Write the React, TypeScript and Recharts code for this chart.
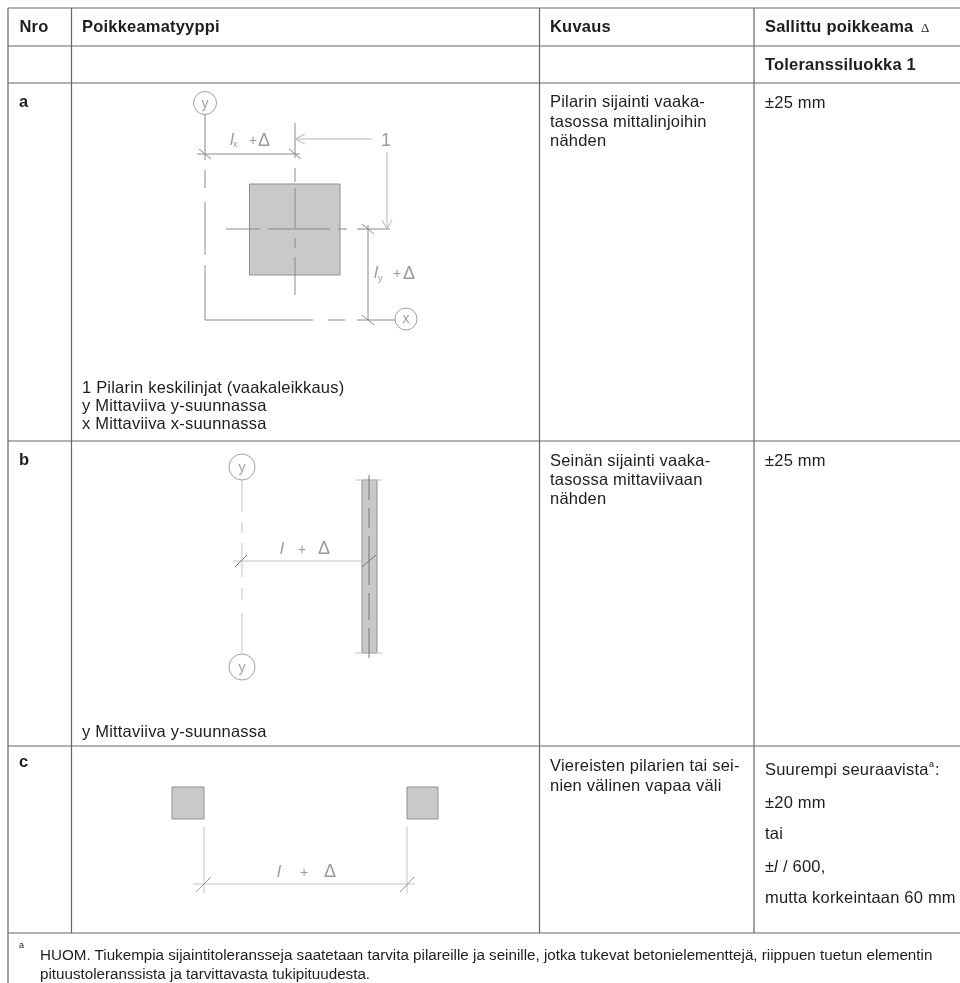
import React from "react";
import { ReferenceArea, ReferenceDot, ReferenceLine, Scatter, ScatterChart, XAxis, YAxis } from "recharts";

type Seg = [number, number, number, number];
type Box = [number, number, number, number];
type Circle = [number, number, number];
type Lab = { x: number; y: number; t: string };

const tableLines: Seg[] = [
  [8, 8, 960, 8],
  [8, 46, 960, 46],
  [8, 83, 960, 83],
  [8, 441, 960, 441],
  [8, 746, 960, 746],
  [8, 933, 960, 933],
  [8, 8, 8, 983],
  [71.5, 8, 71.5, 933],
  [539.5, 8, 539.5, 933],
  [754, 8, 754, 933],
];

// drawing a
const columnLines: Seg[] = [
  [205, 114, 205, 160],
  [205, 170, 205, 188],
  [205, 202, 205, 255],
  [205, 265, 205, 320],
  [205, 320, 313, 320],
  [328, 320, 345, 320],
  [357, 320, 395, 320],
  [295, 123, 295, 158],
  [295, 168, 295, 182],
  [295, 188, 295, 228],
  [295, 238, 295, 248],
  [295, 257, 295, 295],
  [226, 229, 260, 229],
  [268, 229, 330, 229],
  [338, 229, 347, 229],
  [357, 229, 390, 229],
  [197, 154, 300, 154],
  [368, 225, 368, 320],
  [199, 149, 211, 159],
  [289, 149, 301, 159],
  [362, 224, 374, 234],
  [362, 315, 374, 325],
];
const columnLeaders: Seg[] = [
  [295, 139, 372, 139],
  [295, 139, 305, 134],
  [295, 139, 305, 144],
  [387, 152, 387, 229],
  [387, 229, 382, 220],
  [387, 229, 392, 220],
];
const columnBox: Box[] = [[249.5, 184, 340, 275]];

// drawing b
const wallLines: Seg[] = [
  [242, 480, 242, 512],
  [242, 522, 242, 533],
  [242, 543, 242, 577],
  [242, 588, 242, 600],
  [242, 613, 242, 653],
  [233, 561, 363, 561],
  [355, 480, 382, 480],
  [355, 653, 382, 653],
];
const wallTicks: Seg[] = [
  [235, 567, 247, 555],
  [362, 567, 376, 555],
  [369, 475, 369, 500],
  [369, 508, 369, 528],
  [369, 536, 369, 585],
  [369, 593, 369, 620],
  [369, 628, 369, 658],
];
const wallBox: Box[] = [[362, 480, 377, 653]];

// drawing c
const gapLines: Seg[] = [
  [204, 827, 204, 893],
  [407, 827, 407, 893],
  [193, 884, 415, 884],
];
const gapTicks: Seg[] = [
  [196, 892, 211, 877],
  [400, 892, 414, 877],
];
const gapBoxes: Box[] = [
  [172, 787, 204, 819],
  [407, 787, 438, 819],
];

const gridCircles: Circle[] = [
  [205, 103, 11.5],
  [406, 319, 11],
  [242, 467, 13],
  [242, 667, 13],
];

const boldLabels: Lab[] = [
  { x: 19.5, y: 32, t: "Nro" },
  { x: 82, y: 32, t: "Poikkeamatyyppi" },
  { x: 550, y: 32, t: "Kuvaus" },
  { x: 765, y: 32, t: "Sallittu poikkeama" },
  { x: 765, y: 70, t: "Toleranssiluokka 1" },
  { x: 19, y: 107, t: "a" },
  { x: 19, y: 465, t: "b" },
  { x: 19, y: 767, t: "c" },
];
const bodyLabels: Lab[] = [
  { x: 550, y: 107, t: "Pilarin sijainti vaaka-" },
  { x: 550, y: 127, t: "tasossa mittalinjoihin" },
  { x: 550, y: 146, t: "nähden" },
  { x: 765, y: 108, t: "±25 mm" },
  { x: 82, y: 393, t: "1 Pilarin keskilinjat (vaakaleikkaus)" },
  { x: 82, y: 411, t: "y Mittaviiva y-suunnassa" },
  { x: 82, y: 429, t: "x Mittaviiva x-suunnassa" },
  { x: 550, y: 466, t: "Seinän sijainti vaaka-" },
  { x: 550, y: 485, t: "tasossa mittaviivaan" },
  { x: 550, y: 504, t: "nähden" },
  { x: 765, y: 466, t: "±25 mm" },
  { x: 82, y: 737, t: "y Mittaviiva y-suunnassa" },
  { x: 550, y: 771, t: "Viereisten pilarien tai sei-" },
  { x: 550, y: 791, t: "nien välinen vapaa väli" },
  { x: 765, y: 775, t: "Suurempi seuraavista" },
  { x: 765, y: 808, t: "±20 mm" },
  { x: 765, y: 839, t: "tai" },
  { x: 765, y: 872, t: "±" },
  { x: 783, y: 872, t: "/ 600," },
  { x: 765, y: 903, t: "mutta korkeintaan 60 mm" },
  { x: 935, y: 775, t: ":" },
];
const footLabels: Lab[] = [
  { x: 40, y: 960, t: "HUOM. Tiukempia sijaintitoleransseja saatetaan tarvita pilareille ja seinille, jotka tukevat betonielementtejä, riippuen tuetun elementin" },
  { x: 40, y: 979, t: "pituustoleranssista ja tarvittavasta tukipituudesta." },
];
const italicBody: Lab[] = [{ x: 774, y: 872, t: "l" }];
const serifLabels: Lab[] = [{ x: 921, y: 32, t: "Δ" }];
const superLabels: Lab[] = [
  { x: 19, y: 948, t: "a" },
  { x: 929, y: 767, t: "a" },
];

const sketchLabels: Lab[] = [
  { x: 249, y: 145, t: "+" },
  { x: 393, y: 278, t: "+" },
  { x: 298, y: 554, t: "+" },
  { x: 300, y: 877, t: "+" },
];
const bigDeltas: Lab[] = [
  { x: 258, y: 146, t: "Δ" },
  { x: 403, y: 279, t: "Δ" },
  { x: 318, y: 554, t: "Δ" },
  { x: 324, y: 877, t: "Δ" },
  { x: 381, y: 146, t: "1" },
];
const circleLetters: Lab[] = [
  { x: 205, y: 108, t: "y" },
  { x: 406, y: 323, t: "x" },
  { x: 242, y: 472, t: "y" },
  { x: 242, y: 672, t: "y" },
];
const sketchItalics: Lab[] = [
  { x: 230, y: 145, t: "l" },
  { x: 374, y: 278, t: "l" },
  { x: 280, y: 554, t: "l" },
  { x: 277, y: 877, t: "l" },
];
const sketchSubs: Lab[] = [
  { x: 233, y: 147, t: "x" },
  { x: 378, y: 281, t: "y" },
];

const SANS = "'Liberation Sans', Arial, sans-serif";

const textShape =
  (style: React.SVGProps<SVGTextElement>) =>
  ({ cx, cy, payload }: any) =>
    (
      <text x={cx} y={cy} fontFamily={SANS} fontSize={16.5} letterSpacing={0.2} fill="#1e1e1e" {...style}>
        {payload.t}
      </text>
    );

const labelSeries = (data: Lab[], style: React.SVGProps<SVGTextElement>) => (
  <Scatter data={data} dataKey="y" isAnimationActive={false} shape={textShape(style)} />
);

const segments = (data: Seg[], stroke: string, width: number) =>
  data.map((s, i) => (
    <ReferenceLine
      key={`${stroke}-${s.join()}-${i}`}
      segment={[
        { x: s[0], y: s[1] },
        { x: s[2], y: s[3] },
      ]}
      stroke={stroke}
      strokeWidth={width}
    />
  ));

const boxes = (data: Box[]) =>
  data.map((b) => (
    <ReferenceArea
      key={b.join()}
      x1={b[0]}
      y1={b[1]}
      x2={b[2]}
      y2={b[3]}
      fill="#c9c9c9"
      fillOpacity={1}
      stroke="#8f8f8f"
      strokeWidth={1}
    />
  ));

export default function App() {
  return (
    <div style={{ position: "absolute", left: 0, top: 0, background: "#fff", filter: "blur(0.45px)" }}>
      <ScatterChart width={960} height={983} margin={{ top: 0, right: 0, bottom: 0, left: 0 }}>
        <XAxis type="number" dataKey="x" domain={[0, 960]} hide />
        <YAxis type="number" dataKey="y" domain={[0, 983]} reversed hide />
        {boxes(columnBox)}
        {boxes(wallBox)}
        {boxes(gapBoxes)}
        {segments(tableLines, "#666666", 1.2)}
        {segments(columnLines, "#8a8a8a", 1)}
        {segments(columnLeaders, "#b5b5b5", 1)}
        {segments(wallLines, "#c4c4c4", 1)}
        {segments(wallTicks, "#777777", 1)}
        {segments(gapLines, "#c4c4c4", 1)}
        {segments(gapTicks, "#999999", 1)}
        {gridCircles.map((c) => (
          <ReferenceDot key={c.join()} x={c[0]} y={c[1]} r={c[2]} fill="#fff" stroke="#a0a0a0" strokeWidth={1} />
        ))}
        {labelSeries(boldLabels, { fontWeight: 700, fontSize: 16.5 })}
        {labelSeries(bodyLabels, {})}
        {labelSeries(footLabels, { fontSize: 15.2, letterSpacing: 0 })}
        {labelSeries(italicBody, { fontStyle: "italic" })}
        {labelSeries(serifLabels, { fontFamily: "'Liberation Serif', serif", fontSize: 13, letterSpacing: 0 })}
        {labelSeries(superLabels, { fontSize: 9, letterSpacing: 0 })}
        {labelSeries(sketchLabels, { fill: "#9a9a9a", fontSize: 14, letterSpacing: 0 })}
        {labelSeries(bigDeltas, { fill: "#9a9a9a", fontSize: 18, letterSpacing: 0 })}
        {labelSeries(circleLetters, { fill: "#a0a0a0", fontSize: 14, letterSpacing: 0, textAnchor: "middle" })}
        {labelSeries(sketchItalics, { fill: "#9a9a9a", fontSize: 17, fontStyle: "italic", letterSpacing: 0 })}
        {labelSeries(sketchSubs, { fill: "#9a9a9a", fontSize: 9, letterSpacing: 0 })}
      </ScatterChart>
    </div>
  );
}
